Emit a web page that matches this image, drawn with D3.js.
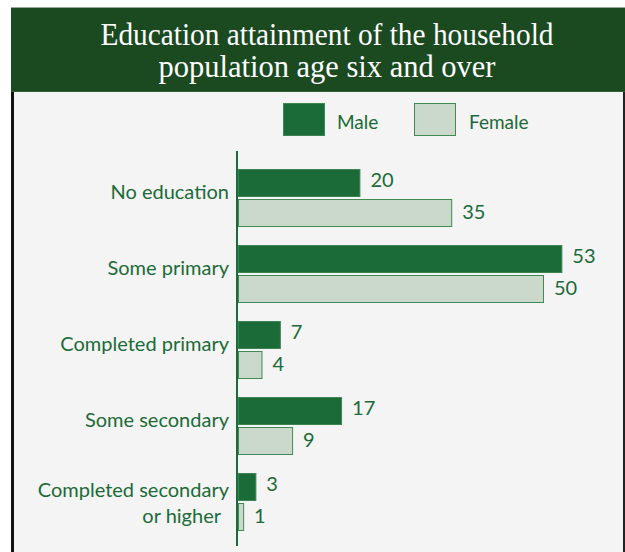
<!DOCTYPE html>
<html>
<head>
<meta charset="utf-8">
<script src="https://cdn.jsdelivr.net/npm/d3@7/dist/d3.min.js"></script>
<style>
  html, body { margin: 0; padding: 0; background: #ffffff; }
  svg { display: block; }
</style>
</head>
<body>
<svg id="chart" width="625" height="552"></svg>
<script>
// Education attainment, household population age six and over (percent)
const categories = [
  ["No education"],
  ["Some primary"],
  ["Completed primary"],
  ["Some secondary"],
  ["Completed secondary", "or higher"]
];
const seriesNames = ["Male", "Female"];
const maleValues = [20, 53, 7, 17, 3];
const femaleValues = [35, 50, 4, 9, 1];
const titleLines = ["Education attainment of the household", "population age six and over"];

const colors = {
  header: "#1b4a21",
  panel: "#f3f4f3",
  text: "#1c6a38",
  male: "#1a6b37",
  maleStroke: "#3c8552",
  female: "#cad9ca",
  femaleStroke: "#3f8a57",
  axis: "#1a6b37"
};

const svg = d3.select("#chart");
const W = 625, H = 552;

// Frame: dark header band over a light panel
svg.append("rect").attr("x", 11).attr("y", 92).attr("width", W - 11).attr("height", H - 92)
  .attr("fill", colors.panel);
svg.append("rect").attr("x", 11).attr("y", 7).attr("width", W - 11).attr("height", 85)
  .attr("fill", colors.header);
svg.append("line").attr("x1", 11).attr("x2", W).attr("y1", 7.5).attr("y2", 7.5)
  .attr("stroke", "#9aa79c").attr("stroke-width", 1);
svg.append("line").attr("x1", 11).attr("x2", W).attr("y1", 91.5).attr("y2", 91.5)
  .attr("stroke", "#2f5e35").attr("stroke-width", 1);
svg.append("line").attr("x1", 12.5).attr("x2", 12.5).attr("y1", 92).attr("y2", H)
  .attr("stroke", "#111111").attr("stroke-width", 3);
svg.append("line").attr("x1", 624).attr("x2", 624).attr("y1", 92).attr("y2", H)
  .attr("stroke", "#222222").attr("stroke-width", 2);

// Title
const titleWidths = [453, 337];
svg.append("g").selectAll("text").data(titleLines).join("text")
  .attr("x", 327)
  .attr("y", (d, i) => 45 + i * 32)
  .attr("text-anchor", "middle")
  .attr("fill", "#ffffff")
  .attr("font-family", "'Liberation Serif', 'DejaVu Serif', serif")
  .attr("font-size", 31)
  .attr("textLength", (d, i) => titleWidths[i])
  .attr("lengthAdjust", "spacingAndGlyphs")
  .text(d => d);

// Scales
const n = categories.length;
const y = d3.scaleBand()
  .domain(d3.range(n))
  .range([169, 169 + n * 76 - 18])
  .paddingInner(18 / 76)
  .paddingOuter(0);
const ySub = d3.scaleBand()
  .domain(seriesNames)
  .range([0, y.bandwidth()])
  .paddingInner(2 / 30)
  .paddingOuter(0);
const x = d3.scaleLinear().domain([0, 60]).range([238, 238 + 60 * 6.12]);

const rows = categories.map((c, i) => ({
  i, label: c,
  values: [
    { s: "Male", v: maleValues[i] },
    { s: "Female", v: femaleValues[i] }
  ]
}));

// Bars
const groups = svg.append("g").selectAll("g").data(rows).join("g")
  .attr("transform", d => `translate(0,${y(d.i)})`);

groups.selectAll("rect").data(d => d.values).join("rect")
  .attr("x", x(0) + 0.5)
  .attr("y", d => ySub(d.s) + 0.5)
  .attr("width", d => x(d.v) - x(0) - 1)
  .attr("height", ySub.bandwidth() - 1)
  .attr("fill", d => d.s === "Male" ? colors.male : colors.female)
  .attr("stroke", d => d.s === "Male" ? colors.maleStroke : colors.femaleStroke)
  .attr("stroke-width", 1);

// Value labels
groups.selectAll("text.val").data(d => d.values).join("text")
  .attr("class", "val")
  .attr("x", d => x(d.v) + 10)
  .attr("y", d => ySub(d.s) + ySub.bandwidth() / 2 + (d.s === "Male" ? 4 : 6))
  .attr("fill", colors.text)
  .attr("font-family", "Lato, 'Noto Sans', sans-serif")
  .attr("font-size", 20)
  .text(d => d.v);

// Category labels
const labelSize = 20, lineGap = 25.6;
groups.each(function (d) {
  const boundary = ySub("Female") - 1;
  const first = boundary + 1 - (d.label.length - 1) * 6;
  d3.select(this).selectAll("text.cat").data(d.label).join("text")
    .attr("class", "cat")
    .attr("x", (t, k) => 229 - k * 8)
    .attr("y", (t, k) => first + k * lineGap)
    .attr("text-anchor", "end")
    .attr("fill", colors.text)
    .attr("font-family", "Lato, 'Noto Sans', sans-serif")
    .attr("font-size", labelSize)
    .text(t => t);
});

// Vertical axis line
svg.append("line")
  .attr("x1", x(0) - 1).attr("x2", x(0) - 1)
  .attr("y1", 151).attr("y2", 546)
  .attr("stroke", colors.axis).attr("stroke-width", 2);

// Legend
const legend = svg.append("g").selectAll("g").data(seriesNames).join("g")
  .attr("transform", (d, i) => `translate(${[283, 414][i]},103)`);
legend.append("rect")
  .attr("x", 0.5).attr("y", 0.5).attr("width", 41).attr("height", 32)
  .attr("fill", d => d === "Male" ? colors.male : colors.female)
  .attr("stroke", d => d === "Male" ? colors.maleStroke : colors.femaleStroke);
legend.append("text")
  .attr("x", (d, i) => [54, 55][i])
  .attr("y", 26)
  .attr("fill", colors.text)
  .attr("font-family", "Lato, 'Noto Sans', sans-serif")
  .attr("font-size", 19)
  .text(d => d);
</script>
</body>
</html>
